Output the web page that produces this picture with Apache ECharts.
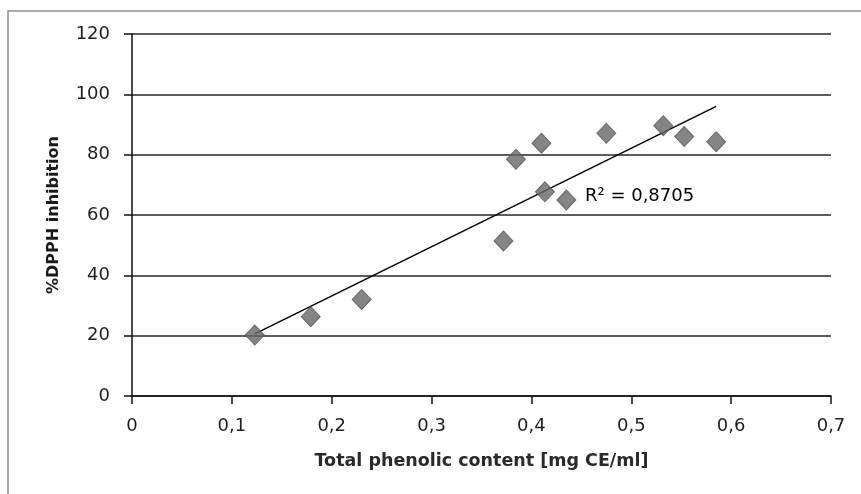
<!DOCTYPE html>
<html>
<head>
<meta charset="utf-8">
<script src="https://cdn.jsdelivr.net/npm/echarts@6/dist/echarts.min.js"></script>
<style>html,body{margin:0;padding:0;background:#fff}#c{width:861px;height:494px}</style>
</head>
<body>
<div id="c"></div>
<script>
// Data
const phenolic = [0.123, 0.179, 0.230, 0.372, 0.3845, 0.410, 0.4135, 0.435, 0.475, 0.532, 0.553, 0.585];
const dpphInhibition = [20.2, 26.3, 32.0, 51.4, 78.5, 83.8, 67.7, 65.0, 87.1, 89.6, 86.0, 84.3];
const trendX = [0.123, 0.585];
const trendY = [20.6, 96.0];
const rSquaredText = 'R² = 0,8705';
const xTicks = [0, 0.1, 0.2, 0.3, 0.4, 0.5, 0.6, 0.7];
const yTicks = [0, 20, 40, 60, 80, 100, 120];

const pts = phenolic.map((x, i) => [x, dpphInhibition[i]]);
const trend = trendX.map((x, i) => [x, trendY[i]]);

const chart = echarts.init(document.getElementById('c'), null, {renderer: 'canvas'});
const font = 'DejaVu Sans';
chart.setOption({
  backgroundColor: '#fff',
  animation: false,
  graphic: [{
    type: 'rect', z: -1,
    shape: {x: 8, y: 11, width: 900, height: 600},
    style: {fill: 'none', stroke: '#8c8c8c', lineWidth: 1.5}
  }],
  grid: {left: 132, right: 30, top: 34, bottom: 98},
  xAxis: {
    type: 'value', min: 0, max: 0.7, interval: 0.1,
    name: 'Total phenolic content [mg CE/ml]', nameLocation: 'middle', nameGap: 56,
    nameTextStyle: {fontFamily: font, fontSize: 17.5, fontWeight: 'bold', color: '#2a2a2a'},
    axisLine: {show: true, onZero: false, lineStyle: {color: '#111', width: 1.5}},
    axisTick: {show: true, length: 8, lineStyle: {color: '#111', width: 1.5}},
    axisLabel: {fontFamily: font, fontSize: 18, color: '#1e1e1e', margin: 21,
      formatter: v => { const t = xTicks.find(k => Math.abs(k - v) < 1e-9); return (t === undefined ? v : t).toString().replace('.', ','); }},
    splitLine: {show: false}
  },
  yAxis: {
    type: 'value', min: 0, max: 120, interval: 20,
    name: '%DPPH inhibition', nameLocation: 'middle', nameGap: 70,
    nameTextStyle: {fontFamily: font, fontSize: 16, fontWeight: 'bold', color: '#1a1a1a'},
    axisLine: {show: true, onZero: false, lineStyle: {color: '#111', width: 1.5}},
    axisTick: {show: true, length: 8, lineStyle: {color: '#111', width: 1.5}},
    axisLabel: {fontFamily: font, fontSize: 18, color: '#1e1e1e', margin: 22,
      formatter: v => String(yTicks.find(k => k === v) ?? v)},
    splitLine: {show: true, lineStyle: {color: '#262626', width: 1.6}}
  },
  series: [
    {
      type: 'line', data: trend, symbol: 'none', z: 3,
      lineStyle: {color: '#000', width: 1.5}
    },
    {
      type: 'scatter', data: pts, symbol: 'diamond', symbolSize: [19, 20], z: 4,
      itemStyle: {color: '#676767', borderColor: '#555', borderWidth: 1}
    },
    {
      type: 'scatter', data: [[0.4536, 66.3]], symbolSize: 0, silent: true, z: 5,
      itemStyle: {opacity: 1},
      label: {show: true, position: 'right', distance: 0, formatter: rSquaredText,
        fontFamily: font, fontSize: 18, color: '#000', opacity: 1, textBorderWidth: 0}
    }
  ]
});
</script>
</body>
</html>
